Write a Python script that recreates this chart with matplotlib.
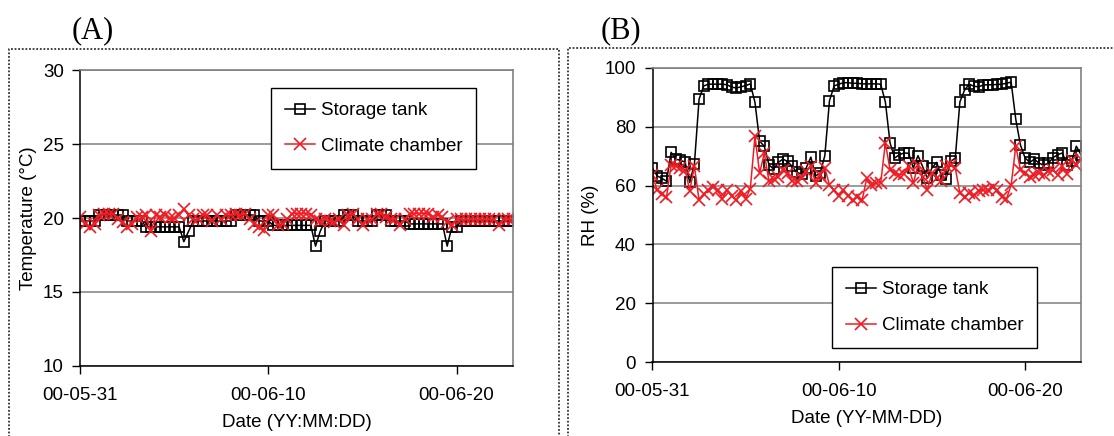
import matplotlib
matplotlib.use('Agg')
from matplotlib import pyplot as plt
import matplotlib.lines as lines
import numpy as np
import pandas as pd

plt.rcParams['font.family'] = ['Liberation Sans', 'DejaVu Sans']

# sampled every 6 hours from 2000-05-31
times = pd.date_range('2000-05-31', periods=93, freq='6h')

temp_tank = [
    19.8, 19.8, 19.8, 19.8, 20.2, 20.2, 20.2, 20.2, 20.2, 20.2, 19.8, 19.8,
    19.8, 19.8, 19.4, 19.4, 19.4, 19.4, 19.4, 19.4, 19.4, 19.4, 18.4, 19.1,
    19.8, 19.8, 19.8, 19.8, 19.8, 19.8, 19.8, 19.8, 19.8, 20.2, 20.2, 20.2,
    20.2, 20.2, 19.8, 19.8, 19.8, 19.5, 19.5, 19.5, 19.5, 19.5, 19.5, 19.5,
    19.5, 19.5, 18.1, 19.1, 19.8, 19.8, 19.8, 19.8, 20.2, 20.2, 20.2, 19.8,
    19.8, 19.8, 19.8, 20.2, 20.2, 20.2, 19.8, 19.8, 19.8, 19.8, 19.6, 19.6,
    19.6, 19.6, 19.6, 19.6, 19.6, 19.6, 18.1, 19.4, 19.4, 19.8, 19.8, 19.8,
    19.8, 19.8, 19.8, 19.8, 19.8, 19.8, 19.8, 19.8, 19.8]
temp_chamber = [
    20.1, 19.6, 19.4, 19.6, 20.2, 20.3, 20.3, 20.3, 19.9, 19.7, 19.4, 19.6,
    20.1, 20.1, 20.2, 19.1, 20.2, 20.1, 20.2, 20.0, 20.0, 20.2, 20.6, 20.2,
    19.9, 19.9, 20.2, 20.2, 19.8, 20.2, 19.9, 20.2, 20.2, 20.3, 20.2, 20.3,
    19.9, 19.6, 19.4, 19.2, 20.2, 20.2, 19.5, 19.6, 19.9, 20.3, 20.3, 20.3,
    20.3, 20.2, 19.9, 19.8, 19.9, 19.8, 19.75, 19.9, 19.5, 20.2, 20.3, 19.9,
    19.5, 19.9, 19.9, 20.3, 20.3, 20.1, 19.9, 19.9, 19.5, 19.9, 20.3, 20.3,
    20.3, 20.3, 20.3, 20.1, 20.2, 20.1, 19.75, 19.5, 19.9, 19.9, 19.9, 19.9,
    19.9, 19.9, 19.9, 19.9, 19.9, 19.5, 19.9, 19.9, 19.9]

rh_tank = [
    65.9, 63.3, 62.5, 61.5, 71.3, 69.0, 68.6, 68.0, 61.1, 67.4, 89.4, 93.9,
    94.5, 94.5, 94.5, 94.5, 94.3, 93.5, 93.2, 93.6, 94.0, 94.6, 88.3, 75.1,
    73.4, 67.1, 65.6, 67.9, 69.0, 68.2, 66.5, 64.5, 63.9, 66.0, 69.7, 63.3,
    64.2, 70.2, 88.9, 93.9, 94.5, 95.0, 95.0, 94.8, 94.8, 94.6, 94.6, 94.6,
    94.6, 94.5, 88.4, 74.5, 69.4, 70.5, 71.1, 71.0, 66.0, 70.2, 66.5, 62.5,
    66.0, 67.9, 63.5, 62.2, 68.2, 69.3, 88.5, 92.5, 94.5, 93.8, 93.6, 94.2,
    94.3, 94.3, 94.4, 94.5, 94.8, 95.2, 82.5, 73.8, 69.4, 67.9, 69.0, 67.6,
    67.0, 67.6, 69.5, 70.5, 71.1, 67.1, 68.5, 73.4, 70.5]
rh_chamber = [
    63.5, 58.5, 57.0, 56.0, 67.0, 66.5, 66.0, 65.4, 58.3, 66.5, 55.0, 57.0,
    58.5, 59.5, 58.5, 55.5, 58.5, 56.5, 55.0, 58.3, 55.5, 59.0, 76.8, 64.2,
    71.0, 61.6, 62.2, 63.0, 65.4, 64.2, 61.6, 61.6, 62.5, 64.8, 66.5, 61.0,
    63.6, 66.0, 60.2, 58.5, 56.5, 58.5, 56.5, 55.0, 56.2, 55.0, 62.5, 60.2,
    60.8, 61.0, 74.5, 65.4, 64.2, 63.7, 64.0, 66.5, 60.8, 67.0, 63.0, 58.5,
    64.2, 62.5, 61.4, 66.5, 67.0, 66.0, 57.4, 56.2, 57.4, 56.8, 58.0, 58.5,
    58.5, 59.4, 58.5, 56.2, 55.5, 60.2, 73.4, 65.4, 64.2, 63.0, 63.7, 64.2,
    63.7, 64.8, 65.4, 63.7, 66.5, 64.0, 68.8, 67.0, 69.0]

xtick_dates = ['2000-05-31', '2000-06-10', '2000-06-20']
xtick_labels = ['00-05-31', '00-06-10', '00-06-20']

W, H = 1114, 436
fig = plt.figure(figsize=(W / 100, H / 100), dpi=100)

def fx(px):
    return px / W

def fy(py):
    return 1 - py / H

axA = fig.add_axes([fx(80.4), fy(366), fx(513) - fx(80.4), fy(70) - fy(366)])
axB = fig.add_axes([fx(652.5), fy(362), fx(1081) - fx(652.5), fy(68) - fy(362)])

red = '#ee1c24'
panels = [
    (axA, temp_tank, temp_chamber, (10, 30), np.arange(10, 31, 5),
     'Temperature (\u00b0C)', 'Date (YY:MM:DD)', (271, 88)),
    (axB, rh_tank, rh_chamber, (0, 100), np.arange(0, 101, 20),
     'RH (%)', 'Date (YY-MM-DD)', (832, 267)),
]

for ax, tank, chamber, ylim, yticks, ylab, xlab, legpos in panels:
    ax.plot(times, tank, color='black', lw=1.1, marker='s', ms=7,
            mfc='none', mec='black', mew=1.2, label='Storage tank')
    ax.plot(times, chamber, color=red, lw=1.1, marker='x', ms=8,
            mew=1.2, label='Climate chamber')
    ax.set_xlim(pd.Timestamp('2000-05-31'), pd.Timestamp('2000-06-23'))
    ax.set_ylim(*ylim)
    ax.set_yticks(yticks)
    ax.set_xticks(pd.to_datetime(xtick_dates), xtick_labels)
    ax.yaxis.grid(True, color='#808080', lw=1.1)
    ax.set_axisbelow(True)
    for s in ['top', 'right']:
        ax.spines[s].set_color('#808080')
        ax.spines[s].set_linewidth(1.2)
    for s in ['left', 'bottom']:
        ax.spines[s].set_color('black')
        ax.spines[s].set_linewidth(1.1)
    ax.tick_params(axis='y', direction='out', length=6, width=1, labelsize=13.5, pad=6)
    ax.tick_params(axis='x', direction='out', length=6, width=1, labelsize=13.5, pad=9)
    ax.set_ylabel(ylab, size=13.5, labelpad=4)
    ax.set_xlabel(xlab, size=13.5, labelpad=7)
    leg = ax.legend(loc='upper left', bbox_to_anchor=(fx(legpos[0]), fy(legpos[1])),
                    bbox_transform=fig.transFigure, borderaxespad=0, fontsize=13.5,
                    fancybox=False, framealpha=1, edgecolor='black',
                    handlelength=1.6, handletextpad=0.3, labelspacing=1.0,
                    borderpad=0.75)
    leg.get_frame().set_linewidth(1)

fig.text(fx(93), fy(31), '(A)', family='Liberation Serif', size=22, ha='center', va='center')
fig.text(fx(621), fy(31), '(B)', family='Liberation Serif', size=22, ha='center', va='center')

# dotted frames round each panel
frame_style = dict(transform=fig.transFigure, color='#333333', lw=1.3, linestyle=(0, (1, 1)))
fig.add_artist(lines.Line2D([fx(8.6), fx(8.6), fx(559), fx(559)],
                            [fy(440), fy(49), fy(49), fy(440)], **frame_style))
fig.add_artist(lines.Line2D([fx(568), fx(568), fx(1120)],
                            [fy(440), fy(48), fy(48)], **frame_style))

fig.savefig('out.png', dpi=100)
